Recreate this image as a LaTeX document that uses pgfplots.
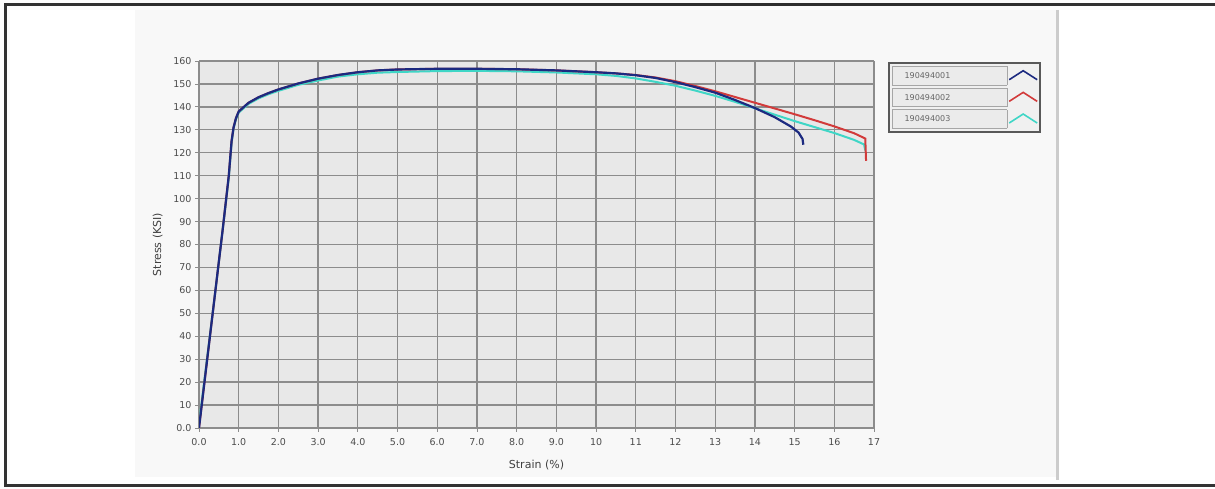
\documentclass[border=0pt]{standalone}
\usepackage{pgfplots}
\pgfplotsset{compat=1.18}
\usepackage{fontspec}
\setmainfont{DejaVu Sans}
\definecolor{specA}{HTML}{1C2A80}
\definecolor{specB}{HTML}{D23A3A}
\definecolor{specC}{HTML}{3FD6C6}
\definecolor{plotbg}{HTML}{E8E8E8}
\definecolor{panelbg}{HTML}{F8F8F8}
\definecolor{gridc}{HTML}{8C8C8C}

% stress-strain curves, strain in %, stress in ksi
\newcommand{\entrybox}[1]{{\setlength{\fboxsep}{6pt}\setlength{\fboxrule}{0.8pt}%
  \fcolorbox{black!35}{black!8}{\makebox[102pt][l]{\hspace{6pt}\color{black!60}\fontsize{8}{9}\selectfont #1}}}}

\begin{document}
\begin{tikzpicture}[x=1pt,y=1pt]
\useasboundingbox (0,0) rectangle (1215,489);
% page frame
\draw[line width=3pt,black!80] (5,3) rectangle (1225,484);
% chart panel
\fill[panelbg] (135,12) rectangle (1056,479);
\draw[line width=3pt,black!20] (1057,9) -- (1057,479);

\begin{axis}[
  at={(199pt,61pt)}, anchor=south west,
  scale only axis, width=675pt, height=367pt,
  xmin=0, xmax=17, ymin=0, ymax=160,
  axis background/.style={fill=plotbg},
  axis line style={draw=none},
  grid=major,
  major grid style={gridc, line width=1.3pt},
  xtick={0,...,17},
  xticklabels={0.0,1.0,2.0,3.0,4.0,5.0,6.0,7.0,8.0,9.0,10,11,12,13,14,15,16,17},
  ytick={0,10,...,160},
  yticklabels={0.0,10,20,30,40,50,60,70,80,90,100,110,120,130,140,150,160},
  tick align=outside, tick pos=left,
  major tick length=4pt,
  tick style={gridc, line width=0.8pt},
  ticklabel style={font=\fontsize{9.5}{11}\selectfont, text=black!70},
  xticklabel style={yshift=-3pt},
  xlabel={Strain (\%)}, ylabel={Stress (KSI)},
  label style={font=\fontsize{11}{13}\selectfont, text=black!75},
  xlabel style={yshift=-8pt},
  ylabel style={yshift=4pt},
  reverse legend,
  legend plot pos=right,
  legend style={at={(1.0207,0.997)}, anchor=north west,
    draw=black!65, line width=1.6pt, fill=black!6,
    inner sep=2pt, row sep=0pt, font=\fontsize{8}{9}\selectfont,
    nodes={inner sep=1pt, text depth=}},
  legend image code/.code={%
    \draw[#1, line width=1.6pt] (5pt,-4pt) -- (19pt,5pt) -- (33pt,-4pt);},
]
\addplot[specC, line width=2pt] coordinates {
(0,2) (0.2,30) (0.4,58) (0.6,87) (0.75,109) (0.82,124) (0.87,130.5)
(0.93,134.5) (1.0,137.5) (1.25,141.3) (1.5,143.7) (1.75,145.5) (2.0,147.0)
(2.5,149.6) (3.0,151.5) (3.5,153.2) (4.0,154.2) (4.5,154.9) (5.0,155.2)
(6.0,155.6) (7.0,155.7) (8.0,155.5) (9.0,155.0) (10.0,154.2) (10.5,153.5)
(11.0,152.4) (11.5,150.9) (12.0,149.2) (12.5,147.1) (13.0,144.8)
(13.5,142.2) (14.0,139.4) (14.5,136.6) (15.0,133.8) (15.5,131.2)
(16.0,128.6) (16.5,125.6) (16.75,123.6) (16.78,121)
};
\addlegendentry{\entrybox{190494003}}
\addplot[specB, line width=2pt] coordinates {
(0,0) (0.2,29) (0.4,58) (0.6,87) (0.75,110) (0.82,125) (0.87,131)
(0.93,135) (1.0,138) (1.25,141.8) (1.5,144.2) (1.75,146) (2.0,147.6)
(2.5,150.2) (3.0,152.3) (3.5,153.9) (4.0,155.1) (4.5,155.9) (5.0,156.3)
(6.0,156.6) (7.0,156.6) (8.0,156.4) (9.0,155.9) (10.0,155.1) (10.5,154.6)
(11.0,153.9) (11.5,152.8) (12.0,151.2) (12.5,149.1) (13.0,146.8)
(13.5,144.3) (14.0,141.8) (14.5,139.3) (15.0,136.8) (15.5,134.2)
(16.0,131.5) (16.5,128.5) (16.78,126.2) (16.80,116.5)
};
\addlegendentry{\entrybox{190494002}}
\addplot[specA, line width=2.2pt] coordinates {
(0,0) (0.2,29) (0.4,58) (0.6,87) (0.75,110) (0.82,125) (0.87,131)
(0.93,135) (1.0,138) (1.25,141.8) (1.5,144.2) (1.75,146) (2.0,147.6)
(2.5,150.2) (3.0,152.3) (3.5,153.9) (4.0,155.1) (4.5,155.9) (5.0,156.3)
(6.0,156.6) (7.0,156.6) (8.0,156.4) (9.0,155.9) (10.0,155.1) (10.5,154.6)
(11.0,153.8) (11.5,152.6) (12.0,150.8) (12.5,148.6) (13.0,146.2)
(13.5,143.0) (14.0,139.5) (14.5,135.5) (14.9,131.5) (15.1,128.8)
(15.2,126) (15.22,123.5)
};
\addlegendentry{\entrybox{190494001}}
\end{axis}
\end{tikzpicture}
\end{document}
